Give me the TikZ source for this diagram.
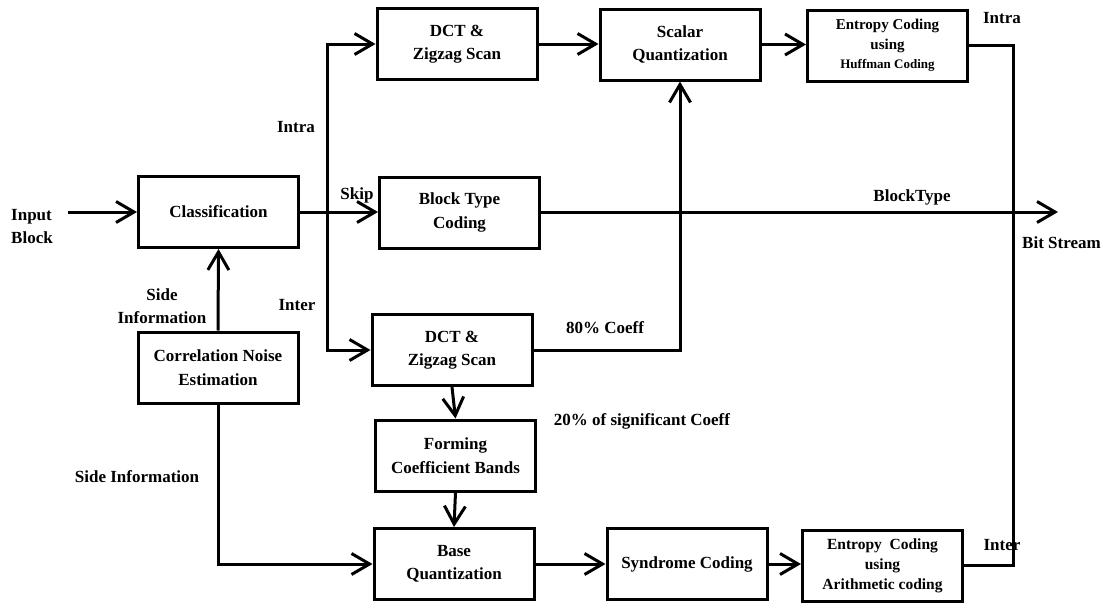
\documentclass[tikz,border=0pt]{standalone}
\usepackage{fontspec}
\setmainfont{Liberation Serif}
\usetikzlibrary{arrows.meta}
\begin{document}
\begin{tikzpicture}[x=1pt,y=-1pt,
  box/.style={draw, line width=3pt, minimum width=160pt, minimum height=71pt, inner sep=0pt, align=center,
    font=\bfseries\fontsize{17}{23.5}\selectfont},
  lbl/.style={inner sep=0pt, font=\bfseries\fontsize{17}{23}\selectfont},
  conn/.style={line width=3pt, line join=miter},
  arr/.style={conn, -{Straight Barb[length=18pt,width=21pt]}}]
\useasboundingbox (0,0) rectangle (1106,605);
% boxes
\node[box] (cls) at (218.5,212) {Classification};
\node[box] (cne) at (218,367.5) {Correlation Noise\\Estimation};
\node[box] (dcta) at (457,44) {DCT \&\\Zigzag Scan};
\node[box] (btc) at (459.5,212.5) {Block Type\\Coding};
\node[box] (dctb) at (452,350) {DCT \&\\Zigzag Scan};
\node[box] (fcb) at (455.5,455.5) {Forming\\Coefficient Bands};
\node[box] (bq) at (454,564) {Base\\Quantization};
\node[box] (sq) at (680,44.5) {Scalar\\Quantization};
\node[box, font=\bfseries\fontsize{15}{19.5}\selectfont] (ehc) at (887.5,45.5)
  {Entropy Coding\\using\\{\fontsize{13}{19.5}\selectfont Huffman Coding}};
\node[box] (sc) at (687,564) {Syndrome Coding};
\node[box, font=\bfseries\fontsize{15.5}{20}\selectfont] (eac) at (882.5,565.5)
  {Entropy\ \ Coding\\using\\Arithmetic coding};
% coordinates
\coordinate (in) at (68,212);
\coordinate (jm) at (327,212);
\coordinate (bx) at (1013,300);
\coordinate (out) at (1058,212);
% connectors
\draw[arr] (in) -- (cls.west);
\draw[arr] (cne.north) -- (cls.south);
\draw[arr] (cls.east) -- (cls.east -| btc.west);
\draw[arr] (jm) |- (dcta.west);
\draw[arr] (jm) |- (dctb.west);
\draw[arr] (dcta.east) -- (dcta.east -| sq.west);
\draw[arr] (sq.east) -- (sq.east -| ehc.west);
\draw[arr] (dctb.east) -| (sq.south);
\draw[arr] (dctb.south) -- (fcb.north);
\draw[arr] (fcb.south) -- (bq.north);
\draw[arr] (cne.south) |- (bq.west);
\draw[arr] (bq.east) -- (bq.east -| sc.west);
\draw[arr] (sc.east) -- (sc.east -| eac.west);
\draw[conn] (eac.east) -- (eac.east -| bx) -- (ehc.east -| bx) -- (ehc.east);
\draw[arr] (cls.east -| btc.east) -- (out);
% labels
\node[lbl, anchor=west, align=left] (inlbl) at (11,226.5) {Input\\Block};
\node[lbl] (intraa) at (296,127) {Intra};
\node[lbl] (skip) at (357,195) {Skip};
\node[lbl] (intera) at (297,305) {Inter};
\node[lbl, align=center] (sidea) at (162,306.5) {Side\\Information};
\node[lbl] (sideb) at (137,477) {Side Information};
\node[lbl] (ceighty) at (605,328) {80\% Coeff};
\node[lbl] (ctwenty) at (642,421) {20\% of significant Coeff};
\node[lbl] (bt) at (912,197) {BlockType};
\node[lbl] (intrab) at (1002,18) {Intra};
\node[lbl, anchor=west] (bs) at (1022,243) {Bit Stream};
\node[lbl] (interb) at (1002,545) {Inter};
\end{tikzpicture}
\end{document}
